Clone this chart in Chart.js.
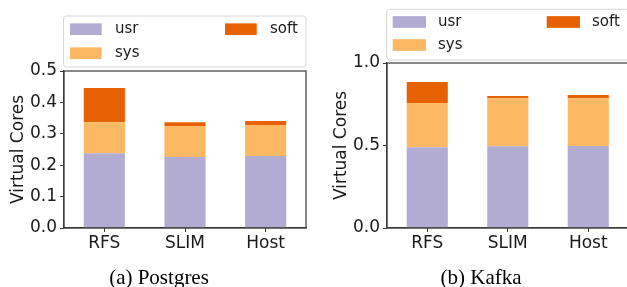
<!DOCTYPE html>
<html>
<head>
<meta charset="utf-8">
<script src="https://cdn.jsdelivr.net/npm/chart.js@4/dist/chart.umd.min.js"></script>
<style>
html,body{margin:0;padding:0;background:#fff;overflow:hidden;width:627px;height:287px;}
.wrap{position:absolute;top:0;height:287px;}
.cap{position:absolute;font-family:"Liberation Serif","Times New Roman",serif;font-size:21px;color:#000;white-space:nowrap;transform:translateX(-50%);}
</style>
</head>
<body>
<div class="wrap" style="left:0;width:320px;"><canvas id="c1" width="320" height="287"></canvas></div>
<div class="wrap" style="left:310px;width:330px;"><canvas id="c2" width="330" height="287"></canvas></div>
<div class="cap" style="left:159px;top:265px;">(a) Postgres</div>
<div class="cap" style="left:481px;top:265px;">(b) Kafka</div>
<script>
// ---- data ----
const categories = ['RFS', 'SLIM', 'Host'];
const seriesNames = ['usr', 'sys', 'soft'];
const pgUsr  = [0.238, 0.226, 0.229];
const pgSys  = [0.099, 0.099, 0.099];
const pgSoft = [0.109, 0.012, 0.013];
const kfUsr  = [0.490, 0.496, 0.497];
const kfSys  = [0.267, 0.291, 0.290];
const kfSoft = [0.128, 0.013, 0.019];
const pgTicks = [0.0, 0.1, 0.2, 0.3, 0.4, 0.5];
const kfTicks = [0.0, 0.5, 1.0];

const colors = ['#b2abd2', '#fdb863', '#e66101'];
const FONT = "'DejaVu Sans', sans-serif";

const framePlugin = {
  id: 'frame',
  afterDatasetsDraw(chart) {
    const a = chart.chartArea, ctx = chart.ctx;
    ctx.save();
    ctx.strokeStyle = '#3a3a3a';
    ctx.lineWidth = 1.2;
    ctx.strokeRect(a.left, a.top, a.right - a.left, a.bottom - a.top);
    ctx.restore();
  }
};

const boxLegendPlugin = {
  id: 'boxLegend',
  afterDraw(chart, args, o) {
    const ctx = chart.ctx;
    ctx.save();
    ctx.beginPath();
    ctx.roundRect(o.x, o.y, o.w, o.h, 3);
    ctx.fillStyle = 'rgba(255,255,255,0.85)';
    ctx.fill();
    ctx.strokeStyle = '#d6d6d6';
    ctx.lineWidth = 1;
    ctx.stroke();
    ctx.font = '15px ' + FONT;
    ctx.textBaseline = 'middle';
    chart.data.datasets.forEach((ds, i) => {
      const col = Math.floor(i / 2), row = i % 2;
      const sx = o.cols[col], cy = o.rows[row];
      ctx.fillStyle = ds.backgroundColor;
      ctx.fillRect(sx, cy - o.sh / 2, o.sw, o.sh);
      ctx.fillStyle = '#1a1a1a';
      ctx.fillText(ds.label, sx + o.tx, cy);
    });
    ctx.restore();
  }
};

function makeChart(id, series, yMax, ticksArr, step, pad, yWidth, titlePad, legend) {
  return new Chart(document.getElementById(id), {
    type: 'bar',
    data: {
      labels: categories,
      datasets: series.map((d, i) => ({
        label: seriesNames[i],
        data: d,
        backgroundColor: colors[i],
        borderWidth: 0,
        categoryPercentage: 1.0,
        barPercentage: 0.51
      }))
    },
    options: {
      responsive: false,
      animation: false,
      layout: { padding: pad },
      plugins: {
        legend: { display: false },
        tooltip: { enabled: false },
        boxLegend: legend
      },
      scales: {
        x: {
          stacked: true,
          grid: { display: true, drawOnChartArea: false, drawTicks: true, tickLength: 4, offset: false, color: '#3a3a3a' },
          border: { display: true, color: '#3a3a3a', width: 1.2 },
          ticks: { font: { family: FONT, size: 17 }, color: '#1a1a1a', padding: 1, maxRotation: 0 },
          afterFit(s) { s.height = 30; }
        },
        y: {
          stacked: true,
          min: 0,
          max: yMax,
          afterBuildTicks(s) { s.ticks = ticksArr.map(v => ({ value: v })); },
          grid: { display: true, drawOnChartArea: false, drawTicks: true, tickLength: 4, color: '#3a3a3a' },
          border: { display: true, color: '#3a3a3a', width: 1.2 },
          ticks: { stepSize: step, font: { family: FONT, size: 17 }, color: '#1a1a1a', padding: 3,
                   callback: v => Number(v).toFixed(1) },
          title: { display: true, text: 'Virtual Cores', font: { family: FONT, size: 17 }, color: '#1a1a1a',
                   padding: { top: titlePad, bottom: 0 } },
          afterFit(s) { s.width = yWidth; }
        }
      }
    },
    plugins: [framePlugin, boxLegendPlugin]
  });
}

makeChart('c1', [pgUsr, pgSys, pgSoft], 0.5, pgTicks, 0.1,
  { left: 0, right: 14, top: 71, bottom: 29 }, 64, 8,
  { x: 63.5, y: 16, w: 242.5, h: 51, cols: [70, 225], rows: [29.2, 53.2], sw: 31.7, sh: 11.7, tx: 45 });

makeChart('c2', [kfUsr, kfSys, kfSoft], 1.0, kfTicks, 0.5,
  { left: 0, right: 11.5, top: 63, bottom: 29 }, 77, 21,
  { x: 76.7, y: 9.3, w: 260, h: 50.7, cols: [82.7, 236.7], rows: [22, 45], sw: 33.3, sh: 11.7, tx: 45.3 });
</script>
</body>
</html>
